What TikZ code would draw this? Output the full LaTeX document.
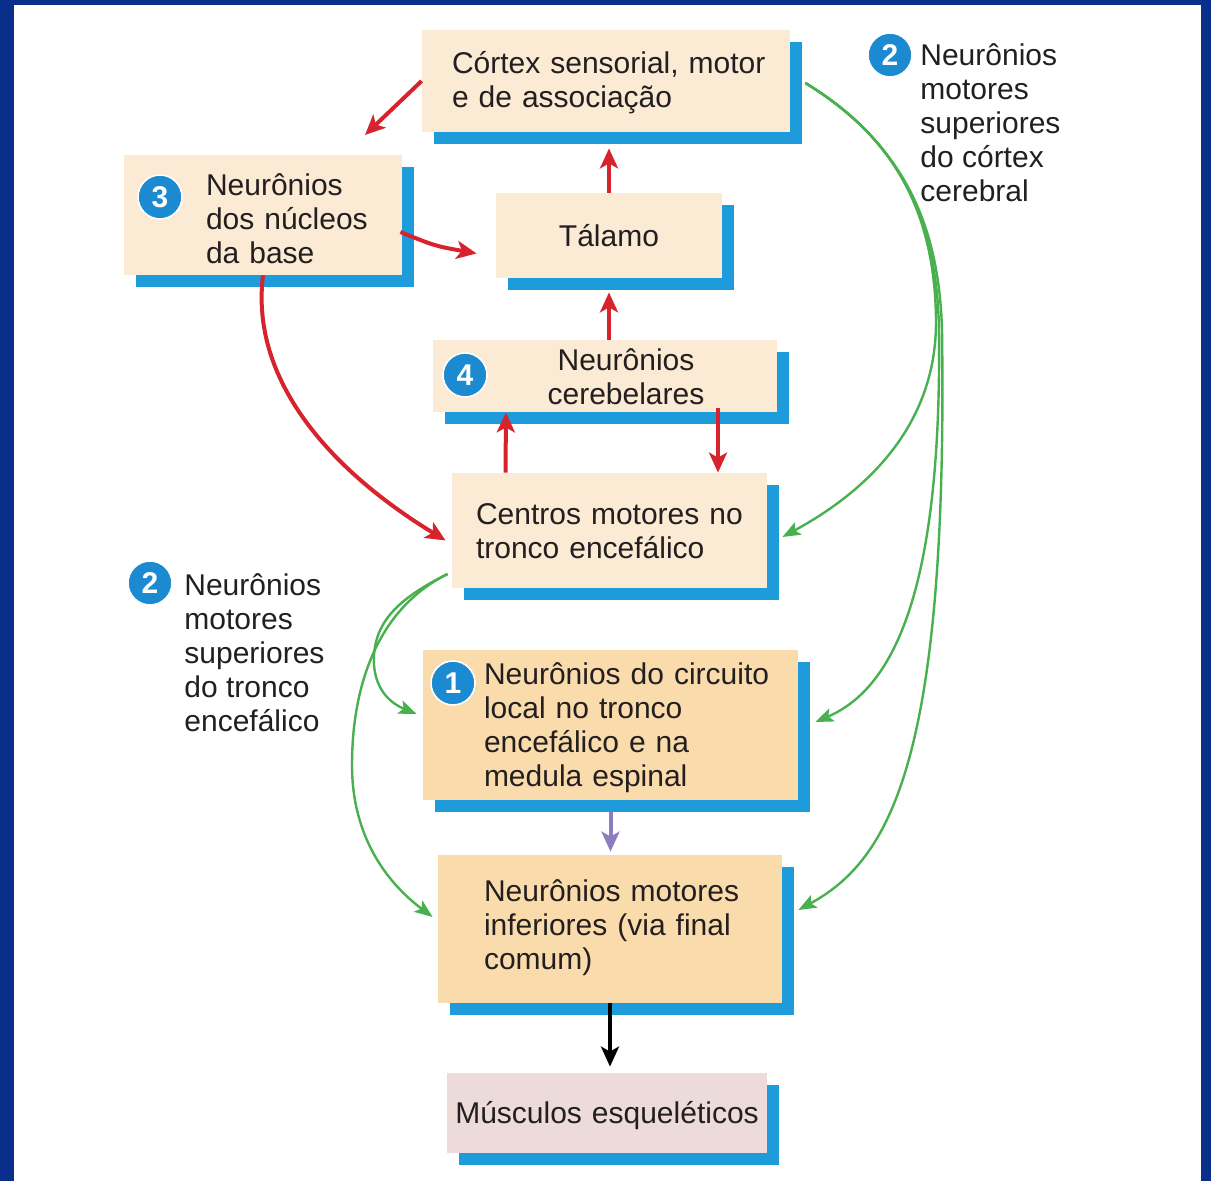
\documentclass[tikz,border=0pt]{standalone}
\usepackage{fontspec}
\setmainfont{Liberation Sans}
\usepackage{xcolor}
\definecolor{frameblue}{RGB}{10,47,138}
\definecolor{barblue}{RGB}{30,155,219}
\definecolor{dotblue}{RGB}{28,138,208}
\definecolor{paleorange}{RGB}{251,234,212}
\definecolor{deeporange}{RGB}{250,220,172}
\definecolor{palepink}{RGB}{236,219,217}
\definecolor{arrowred}{RGB}{214,35,45}
\definecolor{arrowgreen}{RGB}{72,176,78}
\definecolor{arrowpurple}{RGB}{140,125,190}
\definecolor{textgray}{RGB}{35,31,32}
\usepackage{tikz}
\usetikzlibrary{arrows.meta}
\usetikzlibrary{calc,shadows}

\begin{document}
\begin{tikzpicture}[x=0.5pt,y=-0.5pt]
\useasboundingbox (0,0) rectangle (1211,1181);
\fill[frameblue] (0,0) rectangle (14,1181);
\fill[frameblue] (0,0) rectangle (1211,5);
\fill[frameblue] (1201,0) rectangle (1211,1181);

\begin{scope}[every node/.style={fill=paleorange, inner xsep=0pt, inner ysep=0pt, align=left, text=textgray,
              font=\fontsize{15}{17}\selectfont,
              drop shadow={shadow xshift=6pt, shadow yshift=-6pt, fill=barblue, opacity=1}}]
    \node[text width=184pt, minimum height=51pt] (C) at (606,81)
        {\hspace*{15pt}\raisebox{-1.5pt}[\height][\depth]{\begin{tabular}{@{}l@{}}Córtex sensorial, motor\\e de associação\end{tabular}}};
    \node[text width=139pt, minimum height=60pt] (N) at (263,215)
        {\hspace*{41pt}\raisebox{-4pt}[\height][\depth]{\begin{tabular}{@{}l@{}}Neurônios\\dos núcleos\\da base\end{tabular}}};
    \node[text width=113pt, minimum height=42.5pt, align=center] (T) at (609,235.5) {Tálamo};
    \node[text width=172pt, minimum height=36pt, align=center] (K) at (605,376)
        {\hspace*{21pt}\raisebox{-2.5pt}[\height][\depth]{\begin{tabular}{@{}c@{}}Neurônios\\cerebelares\end{tabular}}};
    \node[text width=157.5pt, minimum height=57.5pt] (M) at (609.5,530.5)
        {\hspace*{12pt}\raisebox{-2pt}[\height][\depth]{\begin{tabular}{@{}l@{}}Centros motores no\\tronco encefálico\end{tabular}}};
    \node[text width=187.5pt, minimum height=75pt, fill=deeporange] (L) at (610.5,725)
        {\hspace*{30.5pt}\raisebox{-2pt}[\height][\depth]{\begin{tabular}{@{}l@{}}Neurônios do circuito\\local no tronco\\encefálico e na\\medula espinal\end{tabular}}};
    \node[text width=172pt, minimum height=74pt, fill=deeporange] (I) at (610,929)
        {\hspace*{23pt}\begin{tabular}{@{}l@{}}Neurônios motores\\inferiores (via final\\comum)\end{tabular}};
    \node[text width=160pt, minimum height=40pt, fill=palepink, align=center] (S) at (607,1113)
        {\raisebox{-1.5pt}[\height][\depth]{Músculos esqueléticos}};
\end{scope}

\begin{scope}[every node/.style={circle, fill=dotblue, draw=white, line width=0.8pt, text=white,
              minimum size=22pt, inner sep=0pt, font=\fontsize{15}{15}\selectfont\bfseries}]
    \node (b3) at (160,197) {3};
    \node (b4) at (465,375) {4};
    \node (b1) at (453,683) {1};
    \node (b2a) at (890,55) {2};
    \node (b2b) at (150,583) {2};
\end{scope}

\begin{scope}[every node/.style={align=left, anchor=west, inner sep=0pt, text=textgray, font=\fontsize{15}{17}\selectfont}]
    \node (sup) at (920,123) {Neurônios\\motores\\superiores\\do córtex\\cerebral};
    \node (inf) at (184,653) {Neurônios\\motores\\superiores\\do tronco\\encefálico};
\end{scope}

\coordinate (c1) at (365,135);

\begin{scope}[>={Stealth[length=10pt,width=9pt,inset=2.5pt]},
              every edge/.style={draw=arrowred, line width=2pt}]
    \path [->] (C.west) edge (c1);
    \path [->, shorten >=8pt] (T.north) edge (T.north |- C.south);
    \path [->, shorten >=7pt] (K.north -| T.south) edge (T.south);
    \path [->] ($(M.north)+(-104,0)$) edge ($(K.south)+(-99,0)$);
    \path [->, shorten <=-2pt] ($(K.south)+(113,0)$) edge ($(M.north)+(108.5,0)$);
    \draw [->, arrowred, line width=2pt] ($(N.east)+(-2,17)$) .. controls (435,246) .. ($(T.west)+(-19,18)$);
    \draw [->, arrowred, line width=2pt] (N.south) .. controls (250,380) and (330,470) .. ($(M.west)+(-6,10)$);
\end{scope}

\begin{scope}[>={Stealth[length=9pt,width=7pt,inset=2pt]},
              every path/.style={draw=arrowgreen, line width=1.2pt}]
    \draw [->] ($(C.east)+(15,2)$) .. controls (900,140) and (935,220) .. (936,320)
                                   .. controls (937,430) and (860,495) .. ($(M.east)+(15,6.5)$);
    \draw [->] ($(C.east)+(15,2)$) .. controls (902,142) and (937,222) .. (939,330)
                                   .. controls (942,600) and (890,690) .. ($(L.east)+(17,-3)$);
    \draw [->] ($(C.east)+(15,2)$) .. controls (904,144) and (939,225) .. (942,330)
                                   .. controls (948,760) and (890,860) .. ($(I.east)+(16,-19)$);
    \draw [->] ($(M.west)+(-4,43.5)$) .. controls (395,600) and (372,625) .. (374,665)
                                      .. controls (376,690) and (390,703) .. ($(L.west)+(-6,-11)$);
    \draw [->] ($(M.west)+(-4,43.5)$) .. controls (375,610) and (352,690) .. (352,765)
                                      .. controls (352,840) and (390,885) .. ($(I.west)+(-5,-12)$);
\end{scope}

\begin{scope}[>={Stealth[length=10pt,width=9pt,inset=2.5pt]}]
    \path [->, shorten <=6pt, shorten >=1.5pt] (L.south) edge[draw=arrowpurple, line width=2pt] (L.south |- I.north);
    \path [->, shorten >=3pt] (I.south) edge[draw=black, line width=2pt] (I.south |- S.north);
\end{scope}
\end{tikzpicture}
\end{document}
